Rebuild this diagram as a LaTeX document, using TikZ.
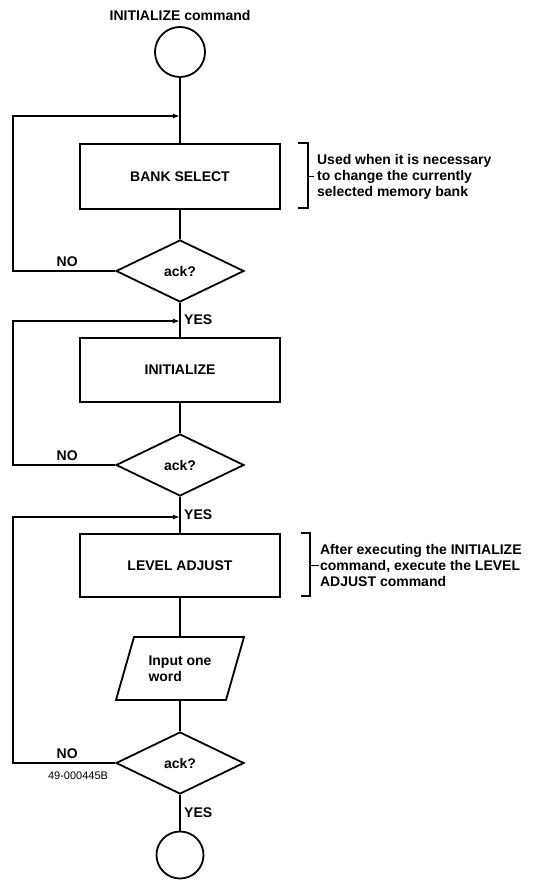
\documentclass[tikz,border=0pt]{standalone}
\usepackage{fontspec}
\setmainfont{Liberation Sans}
\usetikzlibrary{arrows.meta,positioning,shapes.geometric}

\begin{document}
\begin{tikzpicture}[x=1pt,y=-1pt,>={Latex[length=7pt,width=5pt]},line width=1.8pt,
 every node/.style={font=\fontsize{14}{16}\selectfont\bfseries,align=center}]
    \useasboundingbox (0,0) rectangle (534,880);
    \node (title) at (180,15) {INITIALIZE command};
    \node[draw,circle,minimum size=50pt,inner sep=0pt] (start) at (180,52) {};
    \node[draw,minimum width=200pt,minimum height=65pt] (bank) at (180,176.5)
      {BANK SELECT};
    \node[draw,diamond,minimum width=128pt,minimum height=62pt,inner sep=0pt]
      (ack1) at (180,271) {ack?};
    \node[draw,minimum width=200pt,minimum height=64pt] (init) at (180,370)
      {INITIALIZE};
    \node[draw,diamond,minimum width=128pt,minimum height=62pt,inner sep=0pt]
      (ack2) at (180,465) {ack?};
    \node[draw,minimum width=200pt,minimum height=63pt] (level) at (180,565.5)
      {LEVEL ADJUST};
    \node[minimum width=110pt,minimum height=63pt,inner sep=0pt,outer sep=0pt,
          align=left] (word) at (180,668.5) {Input one\\word};
    \draw ([xshift=-9pt]word.south west) -- ([xshift=-9pt]word.south east)
      -- ([xshift=9pt]word.north east) -- ([xshift=9pt]word.north west) -- cycle;
    \node[draw,diamond,minimum width=128pt,minimum height=62pt,inner sep=0pt]
      (ack3) at (180,763) {ack?};
    \node[draw,circle,minimum size=47pt,inner sep=0pt] (stop) at (180,855) {};
    % notes beside the boxes
    \node[anchor=west,align=left] (note1) at ([xshift=32pt]bank.east)
      {Used when it is necessary\\to change the currently\\selected memory bank};
    \node[anchor=west,align=left] (note2) at ([xshift=35pt]level.east)
      {After executing the INITIALIZE\\command, execute the LEVEL\\ADJUST command};
    \node[font=\fontsize{11}{13}\selectfont,anchor=north] (code) at (78,768)
      {49-000445B};
    \draw ([xshift=17pt]bank.north east) -- ++(10,0) -- ++(0,65) -- ++(-10,0);
    \draw ([xshift=27pt]bank.east) -- ++(6,0);
    \draw ([xshift=20pt]level.north east) -- ++(9,0) -- ++(0,63) -- ++(-9,0);
    \draw ([xshift=29pt]level.east) -- ++(9,0);
    % return points
    \coordinate (back1) at (180,116);
    \coordinate (back2) at (180,321);
    \coordinate (back3) at (180,517);
    \draw (start) -- (bank);
    \draw (bank) -- (ack1);
    \draw (ack1) -- node[right]{YES} (init);
    \draw (init) -- (ack2);
    \draw (ack2) -- node[right]{YES} (level);
    \draw (level) -- (word);
    \draw (word) -- (ack3);
    \draw (ack3) -- node[right]{YES} (stop);
    \draw[->] (ack1.west) -- node[above,pos=.47]{NO} ++(-102,0) |- (back1);
    \draw[->] (ack2.west) -- node[above,pos=.47]{NO} ++(-102,0) |- (back2);
    \draw[->] (ack3.west) -- node[above,pos=.47]{NO} ++(-102,0) |- (back3);
\end{tikzpicture}
\end{document}
